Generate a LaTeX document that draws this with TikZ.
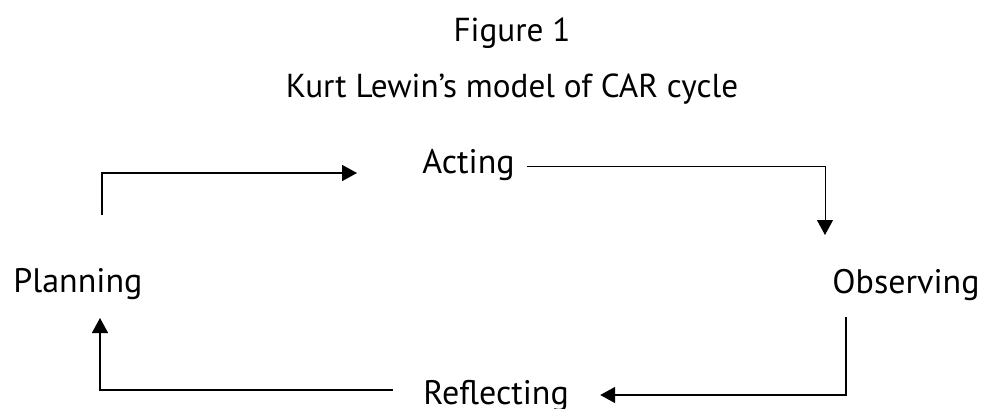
\documentclass[tikz,border=0pt]{standalone}
\usepackage{fontspec}
\setmainfont{PT Sans}
\usetikzlibrary{arrows.meta,calc}

\begin{document}
\begin{tikzpicture}
 [x=0.5pt,y=-0.5pt,
   every node/.style={inner sep=0pt,font=\fontsize{17}{21}\selectfont},
   title/.style={font=\fontsize{16.6}{19}\selectfont},
   flow/.style={line width=0.8pt,-{Triangle[length=7.5pt,width=8pt]}},
   thin flow/.style={flow,line width=0.5pt}]
  \useasboundingbox (0,0) rectangle (987,408);
  \node[title,anchor=base] (fig) at (512,41) {Figure 1};
  \node[title,anchor=base] (caption) at (512,97) {Kurt Lewin’s model of CAR cycle};
  \node[anchor=base west] (plan) at (13,292) {Planning};
  \node[anchor=base west] (act) at (422,173) {Acting};
  \node[anchor=base west] (obs) at (832,293) {Observing};
  \node[anchor=base west] (refl) at (423,404) {Reflecting};
  % the cycle
  \draw[flow] ($(plan.base west)+(89,-77)$) |- ($(act.base west)+(-65,0)$);
  \draw[thin flow] ($(act.base east)+(12,-7)$) -| ($(obs.base west)+(-7,-58)$);
  \draw[flow] ($(obs.base west)+(14,24)$) |- ($(refl.base east)+(31,-9)$);
  \draw[flow] ($(refl.base west)+(-30,-14)$) -| ($(plan.base west)+(87,26)$);
\end{tikzpicture}
\end{document}
